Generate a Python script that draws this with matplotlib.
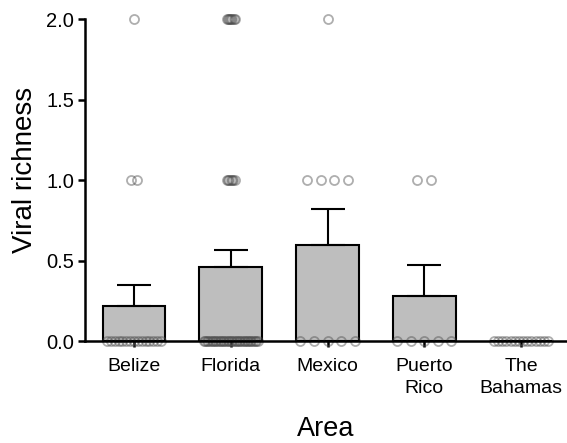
import numpy as np
import matplotlib
matplotlib.use("Agg")
import matplotlib.pyplot as plt

plt.rcParams['font.family'] = ['Liberation Sans', 'DejaVu Sans']

# Bar values (mean and upper error)
areas = ["Belize", "Florida", "Mexico", "Puerto\nRico", "The\nBahamas"]
mean_richness = [0.22, 0.458, 0.594, 0.28, 0.0]
sem_richness = [0.13, 0.107, 0.226, 0.19, 0.0]

# Individual samples: how many samples had richness 0, 1 and 2
richness_levels = [0, 1, 2]
count_zero = [15, 35, 5, 5, 14]
count_one = [2, 7, 4, 2, 0]
count_two = [1, 8, 1, 0, 0]

# how wide a cloud of overlapping points may get (in category units)
STEP = 0.144
MAX_SPAN = 0.56
narrow = {(1, 1): 0.08, (1, 2): 0.08, (0, 1): 0.07}

fig = plt.figure(figsize=(5.67, 4.43), dpi=100)
ax = fig.add_axes([0.150, 0.2302, 0.850, 0.7268])

x = np.arange(len(areas))
ax.bar(x, mean_richness, width=0.65, color='#bebebe', edgecolor='black',
       linewidth=1.5, zorder=2)
ax.errorbar(x, mean_richness, yerr=[np.zeros(len(x)), sem_richness], fmt='none',
            ecolor='black', elinewidth=1.5, capsize=12, capthick=1.5, zorder=3)

# scatter the samples, spread horizontally like the original
for i in range(len(areas)):
    for level, counts in zip(richness_levels, [count_zero, count_one, count_two]):
        n = counts[i]
        if n == 0:
            continue
        span = min(STEP * (n - 1), MAX_SPAN)
        if (i, level) in narrow:
            span = narrow[(i, level)]
        offs = np.linspace(-span / 2, span / 2, n) if n > 1 else np.array([0.0])
        ax.plot(x[i] + offs, np.full(n, level), 'o', ms=6.5, mfc='none',
                mec=(0.3, 0.3, 0.3), mew=1.3, alpha=0.45, clip_on=False,
                zorder=4)

ax.set_xlim(-0.506, 4.475)
ax.set_ylim(0, 2.0)
ax.set_yticks([0, 0.5, 1.0, 1.5, 2.0])
ax.set_yticklabels(['0.0', '0.5', '1.0', '1.5', '2.0'])
ax.set_xticks(x)
ax.set_xticklabels(areas, linespacing=1.4)

for side in ['top', 'right']:
    ax.spines[side].set_visible(False)
for side in ['left', 'bottom']:
    ax.spines[side].set_linewidth(1.8)
    ax.spines[side].set_zorder(5)
ax.tick_params(axis='y', length=5, width=1.8, labelsize=14.5, pad=3)
ax.tick_params(axis='x', length=4, width=1.8, labelsize=14, pad=8)

ax.set_ylabel('Viral richness', fontsize=20)
ax.yaxis.set_label_coords(-0.097, 0.53)
ax.set_xlabel('Area', fontsize=19.5, labelpad=14)

fig.savefig('out.png', dpi=100)
